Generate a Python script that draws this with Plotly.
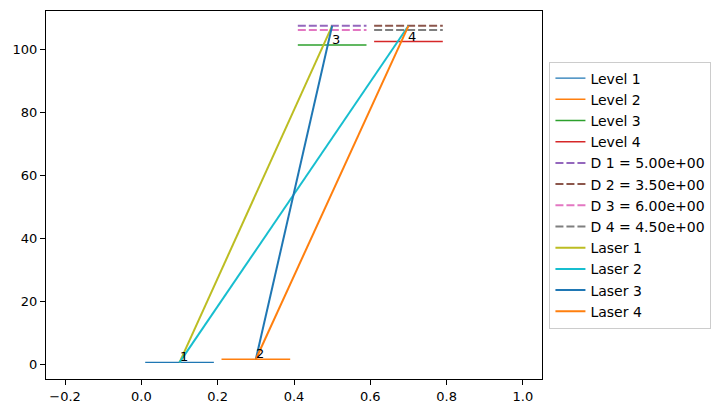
import plotly.graph_objects as go

# ---- data ----
level_names = ["Level 1", "Level 2", "Level 3", "Level 4"]
level_x_start = [0.01, 0.21, 0.41, 0.61]
level_x_end = [0.19, 0.39, 0.59, 0.79]
level_y = [0.6, 1.6, 101.3, 102.4]
level_labels = ["1", "2", "3", "4"]
level_label_x = [0.1, 0.3, 0.5, 0.7]

d_values = [5.00, 3.50, 6.00, 4.50]
d_x_start = [0.41, 0.61, 0.41, 0.61]
d_x_end = [0.59, 0.79, 0.59, 0.79]
d_y = [107.4, 107.4, 106.1, 106.1]

laser_names = ["Laser 1", "Laser 2", "Laser 3", "Laser 4"]
laser_x0 = [0.1, 0.1, 0.3, 0.3]
laser_y0 = [0.6, 0.6, 1.6, 1.6]
laser_x1 = [0.5, 0.7, 0.5, 0.7]
laser_y1 = [107.4, 107.4, 107.4, 107.4]

x_ticks = [-0.2, 0.0, 0.2, 0.4, 0.6, 0.8, 1.0]
y_ticks = [0, 20, 40, 60, 80, 100]

# ---- styles ----
level_colors = ["#1f77b4", "#ff7f0e", "#2ca02c", "#d62728"]
d_colors = ["#9467bd", "#8c564b", "#e377c2", "#7f7f7f"]
laser_colors = ["#bcbd22", "#17becf", "#1f77b4", "#ff7f0e"]
FONT = "DejaVu Sans"

fig = go.Figure()

for name, xs, xe, y, c in zip(level_names, level_x_start, level_x_end, level_y, level_colors):
    fig.add_trace(go.Scatter(x=[xs, xe], y=[y, y], mode="lines", name=name,
                             line=dict(color=c, width=1.4)))

for i, (dv, xs, xe, y, c) in enumerate(zip(d_values, d_x_start, d_x_end, d_y, d_colors)):
    fig.add_trace(go.Scatter(x=[xs, xe], y=[y, y], mode="lines",
                             name=f"D {i+1} = {dv:.2e}",
                             line=dict(color=c, width=2, dash="8px,3px")))

for name, x0, y0, x1, y1, c in zip(laser_names, laser_x0, laser_y0, laser_x1, laser_y1, laser_colors):
    fig.add_trace(go.Scatter(x=[x0, x1], y=[y0, y1], mode="lines", name=name,
                             line=dict(color=c, width=2)))

for lab, x, y in zip(level_labels, level_label_x, level_y):
    fig.add_annotation(x=x, y=y, text=lab, showarrow=False, xanchor="left",
                       yanchor="bottom", yshift=-4, xshift=-2,
                       font=dict(family=FONT, size=13, color="black"))

axis_common = dict(showline=True, mirror=True, linecolor="black", linewidth=1,
                   ticks="outside", ticklen=5, tickcolor="black", showgrid=False,
                   zeroline=False, tickfont=dict(family=FONT, size=13, color="black"))

fig.update_xaxes(range=[-0.25, 1.05], tickvals=x_ticks, tickformat=".1f", **axis_common)
fig.update_yaxes(range=[-4.66, 112.1], tickvals=y_ticks, **axis_common)

fig.update_layout(
    width=721, height=413,
    margin=dict(l=38, r=187, t=3, b=42, autoexpand=False),
    plot_bgcolor="white", paper_bgcolor="white",
    font=dict(family=FONT, size=13, color="black"),
    showlegend=True,
    legend=dict(x=1.015, y=0.5, xanchor="left", yanchor="middle",
                bordercolor="#cccccc", borderwidth=1, bgcolor="white",
                font=dict(family=FONT, size=14), tracegroupgap=0, itemwidth=30),
)

fig.write_html("out.html")
